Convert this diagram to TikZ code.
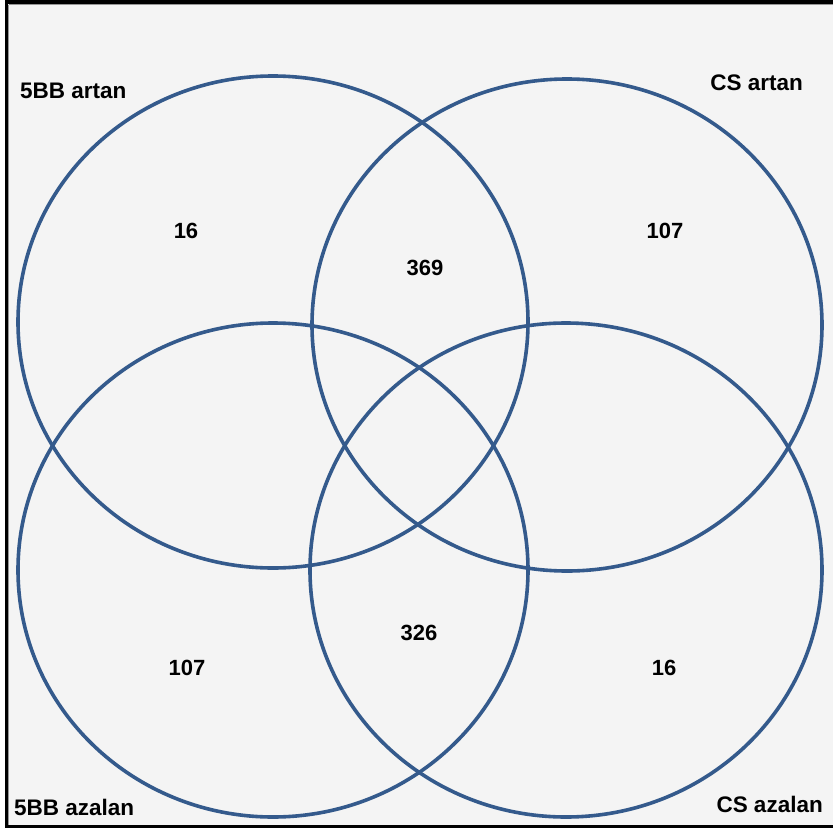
\documentclass[tikz,border=0pt]{standalone}
\usepackage{fontspec}
\setmainfont{Liberation Sans}
\definecolor{vennblue}{RGB}{52,90,140}
\definecolor{bggray}{RGB}{244,244,244}
\definecolor{framegray}{RGB}{150,150,150}
\tikzset{
  venn/.style={draw=vennblue, line width=3.6pt},
  lbl/.style={font=\fontsize{22.5}{26}\selectfont\bfseries, inner sep=0pt, text=black},
  num/.style={font=\fontsize{22}{26}\selectfont\bfseries, inner sep=0pt, text=black},
}
\begin{document}
\begin{tikzpicture}[x=1pt,y=-1pt]
\useasboundingbox (0,0) rectangle (833,830);
\fill[white] (0,0) rectangle (833,830);
\fill[bggray] (8,4) rectangle (833,825);
% frame
\draw[black, line width=4pt] (5,2) -- (833,2);
\draw[black, line width=3pt] (6.5,0) -- (6.5,828);
\draw[black, line width=3pt] (5,826.5) -- (833,826.5);
\draw[framegray, line width=1pt] (8.5,4.5) -- (833,4.5);
\draw[framegray, line width=1pt] (8.5,4.5) -- (8.5,824.5);
% circles
\draw[venn] (273,322) ellipse [x radius=255, y radius=246];
\draw[venn] (567,325) ellipse [x radius=255, y radius=246];
\draw[venn] (273,570) ellipse [x radius=255, y radius=247];
\draw[venn] (566,570) ellipse [x radius=256, y radius=247];
% labels
\node[lbl, anchor=west] (l1) at (20,91) {5BB artan};
\node[lbl, anchor=east] (l2) at (803,83) {CS artan};
\node[lbl, anchor=west] (l3) at (14,807) {5BB azalan};
\node[lbl, anchor=east] (l4) at (823,804) {CS azalan};
% numbers
\node[num] (n1) at (186,231) {16};
\node[num] (n2) at (425,268) {369};
\node[num] (n3) at (665,231) {107};
\node[num] (n4) at (187,668) {107};
\node[num] (n5) at (419,633) {326};
\node[num] (n6) at (664,668) {16};
\end{tikzpicture}
\end{document}
